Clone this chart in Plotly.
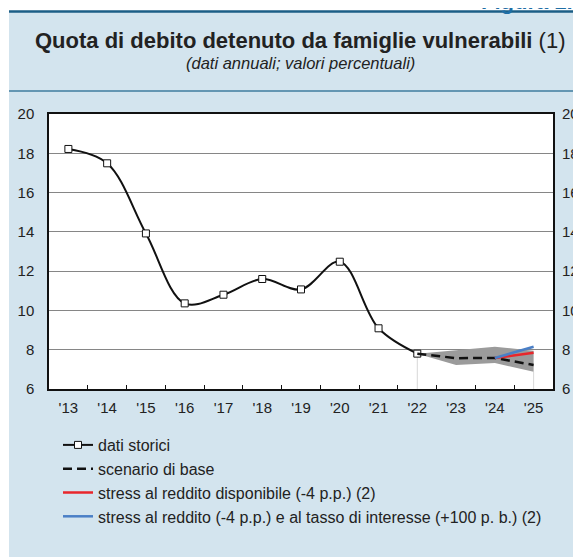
"""Quota di debito detenuto da famiglie vulnerabili - Figura 1.1."""

import plotly.graph_objects as go

# --- data -------------------------------------------------------------
years = ["'13", "'14", "'15", "'16", "'17", "'18", "'19",
         "'20", "'21", "'22", "'23", "'24", "'25"]

hist_years = years[:10]
hist_values = [18.22, 17.49, 13.92, 10.36, 10.80, 11.60, 11.07, 12.48, 9.09, 7.80]

base_years = ["'22", "'23", "'24", "'25"]
base_values = [7.80, 7.57, 7.58, 7.22]

band_upper = [7.80, 7.97, 8.15, 7.95]
band_lower = [7.80, 7.22, 7.32, 6.88]

stress_years = ["'24", "'25"]
stress_income = [7.58, 7.85]
stress_income_rate = [7.58, 8.15]

y_ticks = [6, 8, 10, 12, 14, 16, 18, 20]

# --- geometry ----------------------------------------------------------
# the page body has an 8px margin, so the figure itself starts at (8, 8)
# of the window; positions below are given in window pixels.
OFF = 8
PAGE_W, PAGE_H = 581, 557
W, H = PAGE_W - OFF, PAGE_H - OFF
PLOT_L, PLOT_R, PLOT_T, PLOT_B = 49, 553, 114, 389
ML, MR = PLOT_L - OFF, PAGE_W - PLOT_R
MT, MB = PLOT_T - OFF, PAGE_H - PLOT_B
PW, PH = PLOT_R - PLOT_L, PLOT_B - PLOT_T

FONT = "Liberation Sans, Arial, Helvetica, sans-serif"
PANEL = "#d3e4ee"
DARK_BLUE = "#1b5e86"


def px_x(x):
    return (x - PLOT_L) / PW


def px_y(y):
    return (PLOT_B - y) / PH


fig = go.Figure()

# vertical guide lines at start/end of the projection band
fig.add_trace(go.Scatter(
    x=[base_years[0], base_years[0], None, base_years[-1], base_years[-1]],
    y=[y_ticks[0], band_lower[0], None, y_ticks[0], band_lower[-1]],
    mode="lines", line={"color": "#d8d8d8", "width": 1},
    showlegend=False, hoverinfo="skip",
))

# projection band
fig.add_trace(go.Scatter(
    x=base_years, y=band_upper, mode="lines",
    line={"color": "#9b9b9b", "width": 0},
    showlegend=False, hoverinfo="skip",
))
fig.add_trace(go.Scatter(
    x=base_years, y=band_lower, mode="lines", fill="tonexty",
    fillcolor="#9b9b9b", line={"color": "#9b9b9b", "width": 0},
    showlegend=False, hoverinfo="skip",
))

fig.add_trace(go.Scatter(
    x=hist_years, y=hist_values, mode="lines+markers",
    name="dati storici", legendgroup="a",
    line={"color": "#111111", "width": 2, "shape": "spline", "smoothing": 1},
    marker={"symbol": "square", "size": 7, "color": "white",
            "line": {"color": "#111111", "width": 1}},
))
fig.add_trace(go.Scatter(
    x=base_years, y=base_values, mode="lines",
    name="scenario di base", legendgroup="b",
    line={"color": "#111111", "width": 2.5, "dash": "9px,5px"},
))
fig.add_trace(go.Scatter(
    x=stress_years, y=stress_income, mode="lines",
    name="stress al reddito disponibile (-4 p.p.) (2)", legendgroup="c",
    line={"color": "#e8262b", "width": 2.5},
))
fig.add_trace(go.Scatter(
    x=stress_years, y=stress_income_rate, mode="lines",
    name="stress al reddito (-4 p.p.) e al tasso di interesse (+100 p. b.) (2)",
    legendgroup="d",
    line={"color": "#4a7fc6", "width": 2.5},
))
# invisible trace to carry the right-hand axis labels
fig.add_trace(go.Scatter(
    x=[years[0]], y=[y_ticks[0]], yaxis="y2", mode="markers",
    marker={"opacity": 0}, showlegend=False, hoverinfo="skip",
))

axis_font = {"family": FONT, "size": 15, "color": "#222222"}

fig.update_layout(
    width=W, height=H,
    margin={"l": ML, "r": MR, "t": MT, "b": MB, "pad": 0, "autoexpand": False},
    paper_bgcolor=PANEL, plot_bgcolor="white",
    font={"family": FONT, "color": "#222222"},
    xaxis={
        "type": "category", "categoryorder": "array", "categoryarray": years,
        "range": [-0.5, len(years) - 0.5],
        "tickson": "boundaries", "ticks": "inside", "ticklen": 4,
        "tickcolor": "#111111", "tickfont": axis_font,
        "showgrid": False, "showline": True, "linecolor": "#111111",
        "linewidth": 1.5, "mirror": True, "ticklabelstandoff": 4,
        "zeroline": False, "automargin": False,
    },
    yaxis={
        "range": [y_ticks[0], y_ticks[-1]], "tickvals": y_ticks,
        "tickfont": axis_font, "ticks": "outside", "ticklen": 10,
        "tickcolor": "rgba(0,0,0,0)",
        "showgrid": True, "gridcolor": "#868686", "gridwidth": 1,
        "showline": True, "linecolor": "#111111", "linewidth": 1.5,
        "mirror": True, "zeroline": False, "automargin": False,
    },
    yaxis2={
        "range": [y_ticks[0], y_ticks[-1]], "tickvals": y_ticks,
        "tickfont": axis_font, "overlaying": "y", "side": "right",
        "ticks": "outside", "ticklen": 5, "tickcolor": "rgba(0,0,0,0)",
        "showgrid": False, "zeroline": False, "automargin": False,
    },
    legend={
        "x": px_x(58), "y": px_y(428), "xanchor": "left", "yanchor": "top",
        "bgcolor": "rgba(0,0,0,0)", "traceorder": "grouped",
        "tracegroupgap": 0,
        "font": {"family": FONT, "size": 16, "color": "#222222"},
    },
    showlegend=True,
)

# white strips above and left of the panel, header rules
fig.add_shape(type="rect", xref="paper", yref="paper", layer="below",
              x0=px_x(0), x1=px_x(PAGE_W + 5), y0=px_y(11), y1=px_y(-5),
              fillcolor="white", line={"width": 0})
fig.add_shape(type="rect", xref="paper", yref="paper", layer="below",
              x0=px_x(-5), x1=px_x(9), y0=px_y(PAGE_H + 5), y1=px_y(-5),
              fillcolor="white", line={"width": 0})
fig.add_shape(type="line", xref="paper", yref="paper",
              x0=px_x(9), x1=px_x(PAGE_W + 2), y0=px_y(11.5), y1=px_y(11.5),
              line={"color": DARK_BLUE, "width": 2.5})
fig.add_shape(type="line", xref="paper", yref="paper",
              x0=px_x(9), x1=px_x(PAGE_W + 2), y0=px_y(91), y1=px_y(91),
              line={"color": "#3f7c9e", "width": 1.5})

# header label, cropped at the top edge as in the original page
fig.add_annotation(
    text="<b>Figura 1.1</b>", xref="paper", yref="paper",
    x=px_x(479), y=px_y(16), xanchor="left", yanchor="bottom",
    showarrow=False, font={"family": FONT, "size": 22, "color": "#1f6ea5"},
)
fig.add_annotation(
    text="<b>Quota di debito detenuto da famiglie vulnerabili</b> (1)",
    xref="paper", yref="paper", x=px_x(300), y=px_y(40),
    xanchor="center", yanchor="middle", showarrow=False,
    font={"family": FONT, "size": 22, "color": "#222222"},
)
fig.add_annotation(
    text="<i>(dati annuali; valori percentuali)</i>",
    xref="paper", yref="paper", x=px_x(300), y=px_y(63),
    xanchor="center", yanchor="middle", showarrow=False,
    font={"family": FONT, "size": 16.5, "color": "#222222"},
)

fig.write_html("out.html")
